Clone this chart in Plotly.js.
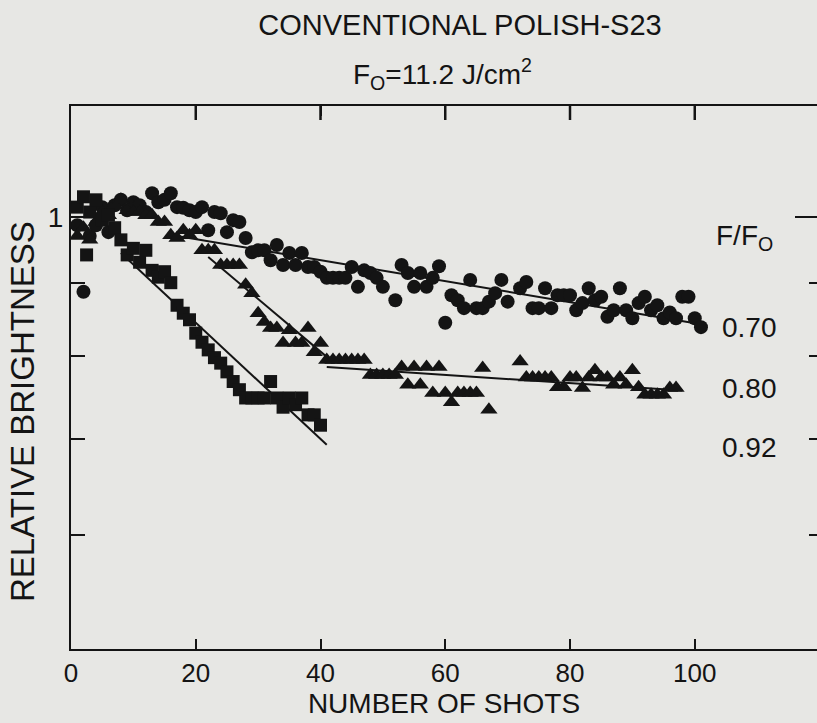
<!DOCTYPE html>
<html>
<head>
<meta charset="utf-8">
<script src="https://cdn.plot.ly/plotly-3.0.1.min.js"></script>
<style>
html,body{margin:0;padding:0;background:#e7e7e4;overflow:hidden;}
#chart{width:817px;height:723px;}
</style>
</head>
<body>
<div id="chart"></div>
<script>
// ---- data ----
// F/F0 = 0.70 (circles)
const circleX = [1,2,3,4,5,6,7,8,9,10,11,12,13,14,15,16,17,18,19,20,21,22,23,24,25,26,27,28,29,30,31,32,33,34,35,36,37,38,39,40,41,42,43,44,45,46,47,48,49,50,52,53,54,55,56,57,58,59,60,61,62,63,64,65,66,67,68,69,70,72,73,74,75,76,77,78,79,80,81,82,83,84,85,86,87,88,89,90,91,92,93,94,95,96,97,98,99,100,101];
const circleY = [0.987,0.887,0.970,0.987,1.016,0.976,1.019,1.028,1.011,1.024,1.019,1.008,1.039,1.024,1.028,1.039,1.016,1.015,1.011,1.008,1.016,0.979,1.008,1.006,0.976,0.995,0.992,0.967,0.945,0.948,0.948,0.933,0.956,0.926,0.944,0.926,0.944,0.923,0.923,0.916,0.907,0.907,0.907,0.907,0.923,0.894,0.918,0.914,0.907,0.894,0.875,0.926,0.914,0.894,0.914,0.894,0.907,0.924,0.844,0.882,0.875,0.864,0.904,0.864,0.864,0.873,0.885,0.904,0.873,0.892,0.901,0.864,0.864,0.892,0.864,0.882,0.882,0.882,0.861,0.871,0.892,0.875,0.880,0.852,0.861,0.892,0.861,0.850,0.871,0.880,0.861,0.868,0.850,0.858,0.850,0.880,0.880,0.850,0.838];
// F/F0 = 0.80 (triangles)
const triX = [1,2,3,4,5,6,7,8,9,10,11,12,13,14,15,16,17,18,19,20,21,22,23,24,25,26,27,28,29,30,31,32,33,34,35,36,37,38,39,40,41,42,43,44,45,46,47,48,49,50,51,52,53,54,55,56,57,58,59,60,61,62,63,64,65,66,67,72,73,74,75,76,77,78,79,80,81,82,83,84,85,86,87,88,89,90,91,92,93,94,95,96,97];
const triY = [0.970,0.983,0.964,0.992,1.008,1.003,1.019,1.028,1.011,1.008,1.008,1.003,1.003,0.992,0.992,0.971,0.967,0.979,0.971,0.979,0.948,0.948,0.948,0.926,0.926,0.926,0.926,0.897,0.885,0.857,0.845,0.837,0.837,0.817,0.834,0.817,0.817,0.837,0.805,0.817,0.795,0.795,0.795,0.795,0.795,0.795,0.795,0.776,0.776,0.776,0.776,0.776,0.786,0.764,0.786,0.764,0.786,0.754,0.786,0.754,0.743,0.754,0.754,0.754,0.754,0.785,0.734,0.793,0.773,0.773,0.773,0.773,0.773,0.761,0.761,0.773,0.773,0.760,0.773,0.782,0.773,0.773,0.764,0.773,0.764,0.782,0.761,0.752,0.752,0.752,0.752,0.760,0.760];
// F/F0 = 0.92 (squares)
const squareX = [1,2,2.5,3,4,5,6,7,8,9,10,11,12,13,14,15,16,17,18,19,20,21,22,23,24,25,26,27,28,29,30,31,32,33,34,35,36,37,38,39,40];
const squareY = [1.016,1.033,0.941,1.008,1.028,0.995,1.003,0.983,0.964,0.941,0.951,0.930,0.948,0.918,0.908,0.916,0.900,0.868,0.857,0.848,0.830,0.818,0.808,0.798,0.791,0.780,0.768,0.758,0.748,0.748,0.748,0.748,0.768,0.748,0.737,0.748,0.740,0.748,0.728,0.728,0.716];
// fitted lines
const circleFitX = [17, 101];
const circleFitY = [0.970, 0.842];
const triFit1X = [22, 41];
const triFit1Y = [0.938, 0.799];
const triFit2X = [41, 98];
const triFit2Y = [0.786, 0.757];
const squareFitX = [8, 41];
const squareFitY = [0.944, 0.694];
// axis ticks
const xTicks = [0, 20, 40, 60, 80, 100];
const xTickText = ['0', '20', '40', '60', '80', '100'];
const topTicks = [20, 40, 60, 80, 100];
const yTicks = [0.5, 0.6, 0.7, 0.8, 0.9, 1];
const yTickText = ['', '', '', '', '', '1'];
const rightMinorTicks = [0.6, 0.7, 0.8, 0.9];
// right-side labels
const ratioLabels = ['0.70', '0.80', '0.92'];
const ratioLabelY = [0.838, 0.760, 0.691];

const ink = '#141414';
const bg = '#e7e7e4';
const font = 'Liberation Sans, Arial, sans-serif';
const xRange = [0, 119.6];
const yRange = [Math.log10(0.5), Math.log10(1.195)];

function markerTrace(x, y, symbol, size) {
  return {x: x, y: y, mode: 'markers', type: 'scatter', hoverinfo: 'skip',
    marker: {symbol: symbol, size: size, color: ink, line: {width: 0}}, showlegend: false};
}
function lineTrace(x, y) {
  return {x: x, y: y, mode: 'lines', type: 'scatter', hoverinfo: 'skip',
    line: {color: ink, width: 2}, showlegend: false};
}

const traces = [
  lineTrace(circleFitX, circleFitY),
  lineTrace(triFit1X, triFit1Y),
  lineTrace(triFit2X, triFit2Y),
  lineTrace(squareFitX, squareFitY),
  markerTrace(circleX, circleY, 'circle', 14),
  markerTrace(triX, triY, 'triangle-up', 15),
  markerTrace(squareX, squareY, 'square', 13),
  // invisible carrier so the right-hand tick axis is drawn
  {x: circleFitX, y: circleFitY, xaxis: 'x', yaxis: 'y2', mode: 'lines', type: 'scatter',
   line: {width: 0, color: 'rgba(0,0,0,0)'}, hoverinfo: 'skip', showlegend: false}
];

const annotations = [
  {xref: 'paper', yref: 'paper', x: (442-71)/746, y: (649-74)/543, text: 'F<sub>O</sub>=11.2 J/cm<sup>2</sup>',
   showarrow: false, font: {family: font, size: 28, color: ink}, xanchor: 'center', yanchor: 'middle'},
  {xref: 'paper', yref: 'paper', x: -49/746, y: (649-412)/543, text: 'RELATIVE BRIGHTNESS', textangle: -90,
   showarrow: false, font: {family: font, size: 33, color: ink}, xanchor: 'center', yanchor: 'middle'},
  {xref: 'x', yref: 'y', x: 108.0, y: Math.log10(0.968), text: 'F/F<sub>O</sub>',
   showarrow: false, font: {family: font, size: 28, color: ink}, xanchor: 'center', yanchor: 'middle'}
];
for (let i = 0; i < ratioLabels.length; i++) {
  annotations.push({xref: 'x', yref: 'y', x: 108.8, y: Math.log10(ratioLabelY[i]), text: ratioLabels[i],
    showarrow: false, font: {family: font, size: 28, color: ink}, xanchor: 'center', yanchor: 'middle'});
}

// top-edge tick marks, placed on the x scale at the tick values
const shapes = topTicks.map(v => ({type: 'line', xref: 'x', yref: 'paper', x0: v, x1: v, y0: 1.002, y1: 1 - 14/543,
  line: {color: ink, width: 2.5}, layer: 'above'}));

const layout = {
  width: 817, height: 723,
  paper_bgcolor: bg, plot_bgcolor: bg,
  margin: {l: 71, r: 0, t: 106, b: 74, pad: 0},
  title: {text: 'CONVENTIONAL POLISH-S23', x: 460/817, xanchor: 'center', y: 1 - 25/723, yanchor: 'middle',
          font: {family: font, size: 29, color: ink}},
  xaxis: {range: xRange, tickvals: xTicks, ticktext: xTickText, ticks: 'inside', ticklen: 10, tickwidth: 2,
          tickcolor: ink, showline: true, linecolor: ink, linewidth: 2, mirror: 'ticks', showgrid: false, zeroline: false,
          tickfont: {family: font, size: 26, color: ink},
          title: {text: 'NUMBER OF SHOTS', font: {family: font, size: 28, color: ink}, standoff: 6}},
  yaxis: {type: 'log', range: yRange, tickvals: yTicks, ticktext: yTickText,
          ticks: 'inside', ticklen: 14, tickwidth: 2, tickcolor: ink, showline: true, linecolor: ink, linewidth: 2,
          mirror: false, showgrid: false, zeroline: false, tickfont: {family: font, size: 28, color: ink}},
  yaxis2: {type: 'log', overlaying: 'y', side: 'right', anchor: 'x', range: yRange,
           tickvals: [1], ticks: 'inside', ticklen: 22, tickwidth: 2, tickcolor: ink, showticklabels: false,
           showline: false, showgrid: false, zeroline: false,
           minor: {tickmode: 'array', tickvals: rightMinorTicks, ticks: 'inside', ticklen: 8, tickwidth: 2, tickcolor: ink, showgrid: false}},
  shapes: shapes,
  annotations: annotations,
  showlegend: false
};

Plotly.newPlot('chart', traces, layout, {staticPlot: true, displayModeBar: false});
</script>
</body>
</html>
